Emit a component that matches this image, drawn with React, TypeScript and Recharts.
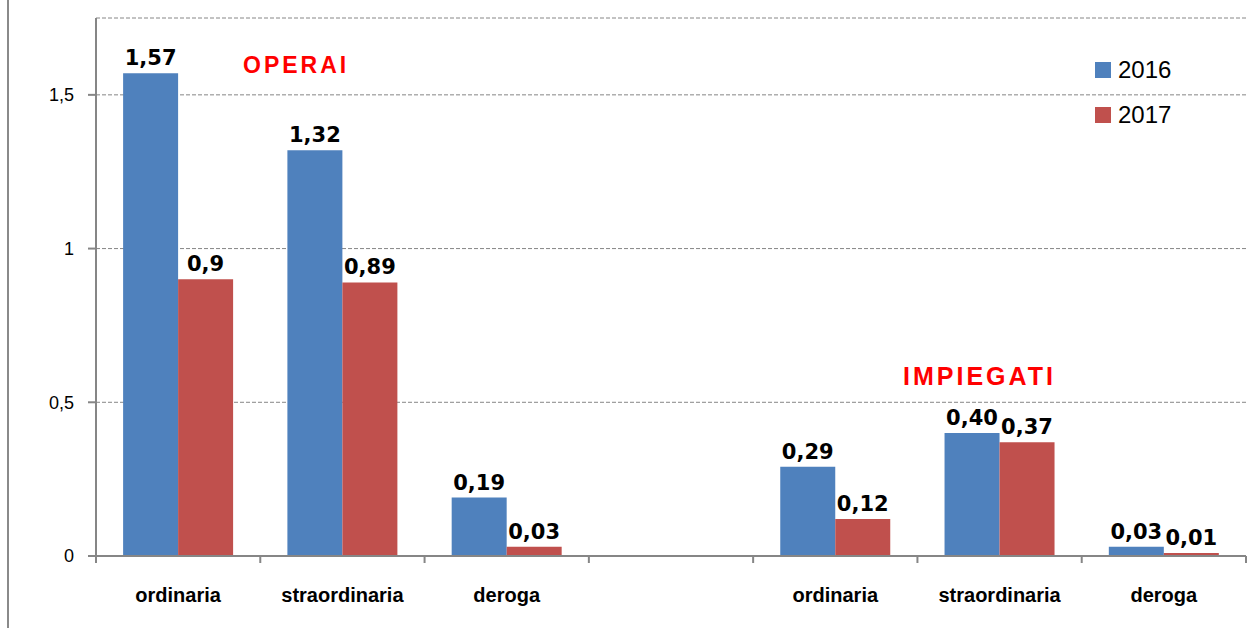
import React from 'react';
import { BarChart, Bar, XAxis, YAxis, CartesianGrid, LabelList } from 'recharts';

const categories = ['ordinaria', 'straordinaria', 'deroga', '', 'ordinaria', 'straordinaria', 'deroga'];
const values2016 = [1.57, 1.32, 0.19, null, 0.29, 0.4, 0.03];
const values2017 = [0.9, 0.89, 0.03, null, 0.12, 0.37, 0.01];
const labels2016 = ['1,57', '1,32', '0,19', '', '0,29', '0,40', '0,03'];
const labels2017 = ['0,9', '0,89', '0,03', '', '0,12', '0,37', '0,01'];
const yTicks = [0, 0.5, 1, 1.5];
const seriesNames = ['2016', '2017'];
const groupTitles = ['OPERAI', 'IMPIEGATI'];

const data = categories.map((c, i) => ({
  slot: 's' + i,
  name: c,
  v2016: values2016[i],
  v2017: values2017[i],
  l2016: labels2016[i],
  l2017: labels2017[i],
}));

const W = 1260;
const H = 628;
const PLOT_LEFT = 96;
const PLOT_RIGHT = 14;
const SLOT = (W - PLOT_LEFT - PLOT_RIGHT) / categories.length;
const BLUE = '#4F81BD';
const RED = '#C0504D';
const AXIS = '#868686';

const CatTick = (props: any) => {
  const { x, y, index } = props;
  const left = x - SLOT / 2;
  const right = x + SLOT / 2;
  return (
    <g>
      <line x1={left} y1={y} x2={left} y2={y + 7} stroke={AXIS} strokeWidth={2} />
      {index === categories.length - 1 && (
        <line x1={right} y1={y} x2={right} y2={y + 7} stroke={AXIS} strokeWidth={2} />
      )}
      <text
        x={x}
        y={y + 46}
        textAnchor="middle"
        fontFamily="'Liberation Sans', Arial, sans-serif"
        fontWeight="bold"
        fontSize={20}
        fill="#000"
      >
        {categories[index]}
      </text>
    </g>
  );
};

const labelStyle = {
  fontFamily: "'DejaVu Sans', Verdana, sans-serif",
  fontWeight: 'bold' as const,
  fontSize: 21,
  fill: '#000',
};

export default function App() {
  return (
    <div style={{ position: 'absolute', left: 0, top: 0, width: W, height: H, background: '#fff' }}>
      <BarChart
        width={W}
        height={H}
        data={data}
        margin={{ top: 18, right: PLOT_RIGHT, left: 0, bottom: 0 }}
        barCategoryGap="16.5%"
        barGap={0}
      >
        <CartesianGrid vertical={false} stroke={AXIS} strokeDasharray="4 2" />
        <XAxis
          dataKey="slot"
          height={72}
          stroke={AXIS}
          strokeWidth={2}
          tickLine={false}
          tickSize={0}
          tickMargin={0}
          interval={0}
          tick={<CatTick />}
        />
        <YAxis
          width={PLOT_LEFT}
          domain={[0, 1.75]}
          ticks={yTicks}
          stroke={AXIS}
          strokeWidth={2}
          tickSize={8}
          tickMargin={14}
          tickFormatter={(v: number) => String(v).replace('.', ',')}
          tick={{ fill: '#000', fontSize: 18, fontFamily: "'Liberation Sans', Arial, sans-serif" }}
        />
        <Bar dataKey="v2016" name={seriesNames[0]} fill={BLUE} isAnimationActive={false}>
          <LabelList dataKey="l2016" position="top" offset={8} style={labelStyle} />
        </Bar>
        <Bar dataKey="v2017" name={seriesNames[1]} fill={RED} isAnimationActive={false}>
          <LabelList dataKey="l2017" position="top" offset={8} style={labelStyle} />
        </Bar>
      </BarChart>
      <div style={{ position: 'absolute', left: 7, top: 0, width: 2, height: H, background: '#8a8a8a' }} />
      <div
        style={{
          position: 'absolute',
          left: 1095,
          top: 47,
          fontFamily: "'Liberation Sans', Arial, sans-serif",
        }}
      >
        {seriesNames.map((n, i) => (
          <div key={n} style={{ display: 'flex', alignItems: 'center', height: 45 }}>
            <div style={{ width: 16, height: 16, background: i === 0 ? BLUE : RED, marginRight: 7 }} />
            <span style={{ fontSize: 24, color: '#000' }}>{n}</span>
          </div>
        ))}
      </div>
      <div
        style={{
          position: 'absolute',
          left: 243,
          top: 54,
          fontFamily: "'Liberation Sans', Arial, sans-serif",
          fontWeight: 'bold',
          fontSize: 23,
          lineHeight: 1,
          letterSpacing: 3,
          color: '#FF0000',
        }}
      >
        {groupTitles[0]}
      </div>
      <div
        style={{
          position: 'absolute',
          left: 903,
          top: 364,
          fontFamily: "'Liberation Sans', Arial, sans-serif",
          fontWeight: 'bold',
          fontSize: 25,
          lineHeight: 1,
          letterSpacing: 3,
          color: '#FF0000',
        }}
      >
        {groupTitles[1]}
      </div>
    </div>
  );
}
